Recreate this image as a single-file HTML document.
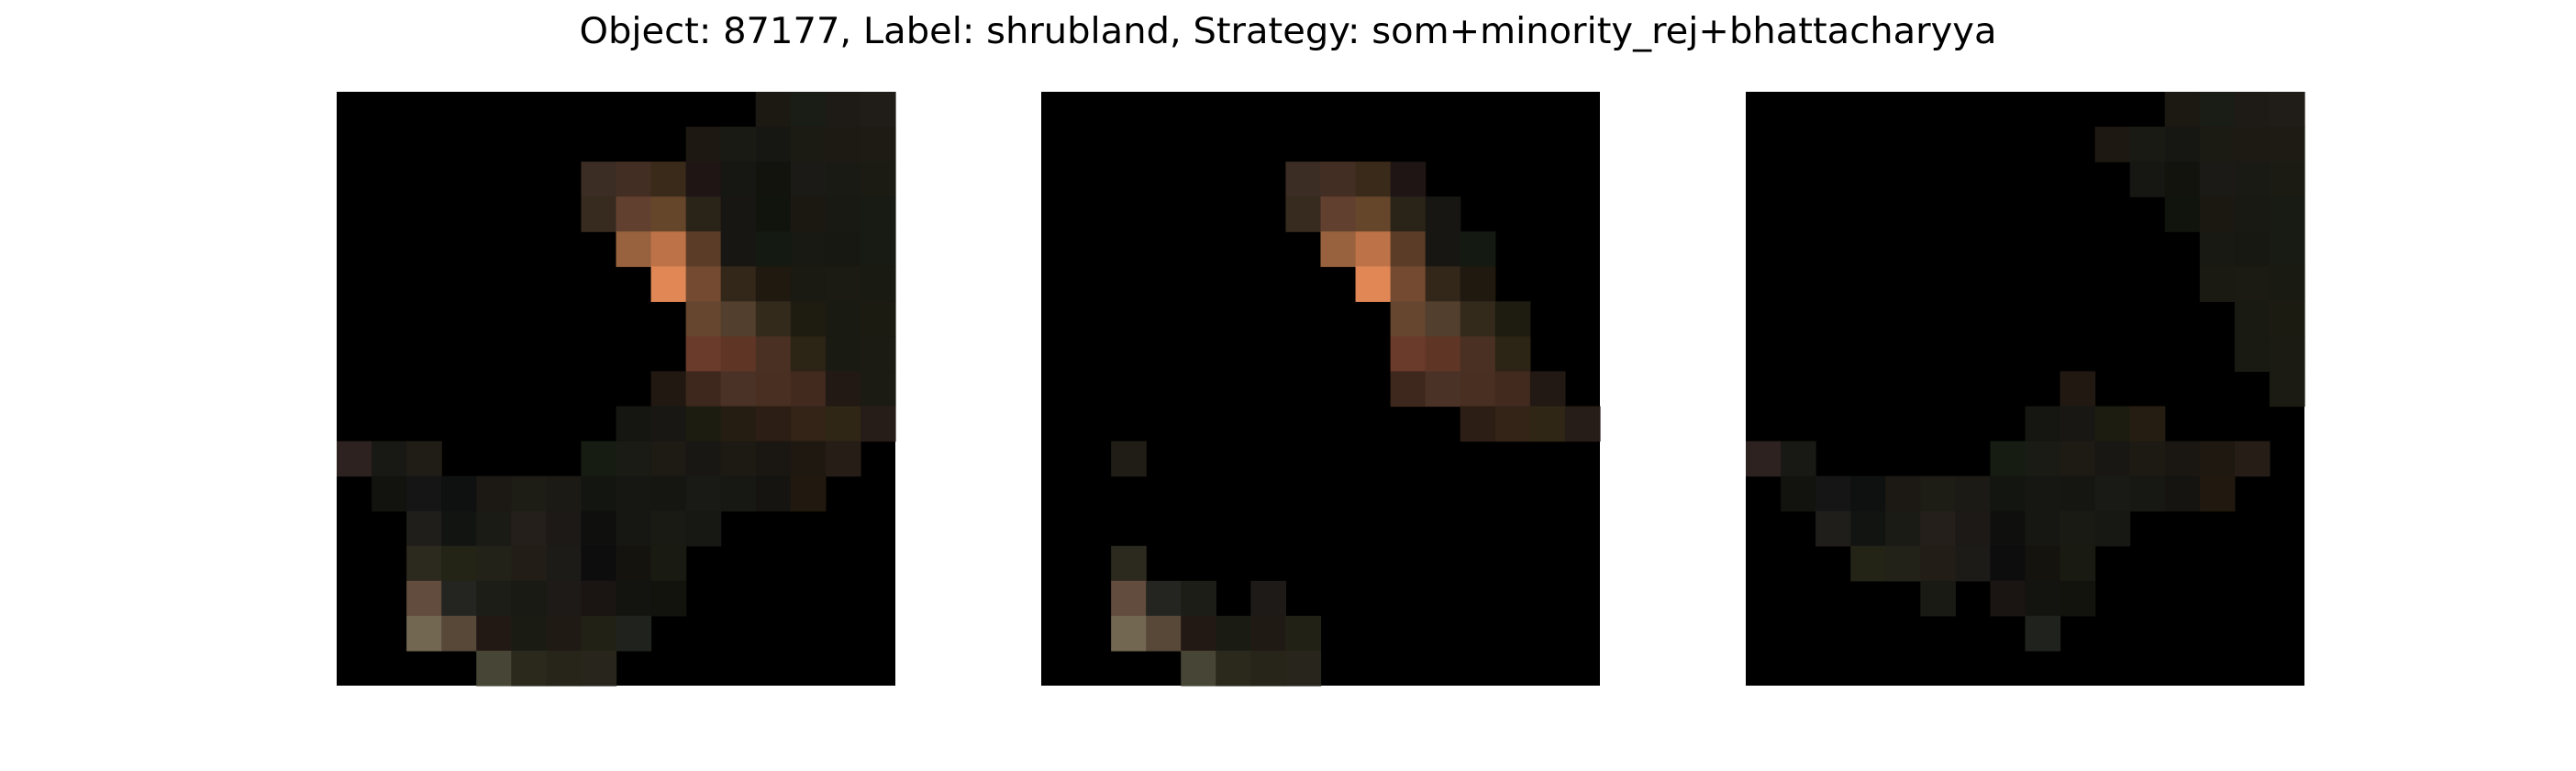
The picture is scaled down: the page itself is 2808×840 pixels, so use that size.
<!DOCTYPE html>
<html><head><meta charset="utf-8"><style>
html,body{margin:0;padding:0;background:#fff;width:2808px;height:840px;overflow:hidden}
svg{display:block}
</style></head><body>
<svg id="fig" width="2808" height="840" xmlns="http://www.w3.org/2000/svg">
<rect width="2808" height="840" fill="#fff"/>
<text x="1404" y="47" text-anchor="middle" textLength="1545" lengthAdjust="spacingAndGlyphs" font-family="DejaVu Sans, Liberation Sans, sans-serif" font-size="39" fill="#000">Object: 87177, Label: shrubland, Strategy: som+minority_rej+bhattacharyya</text>
</svg>
<script>
const panelLefts = [367, 1135, 1903];
const panelNames = ['panel-original', 'panel-filtered', 'panel-rejected'];
const grid = [
"0,0,0,0,0,0,0,0,0,0,0,0,1c1812,1a1c16,1e1b16,201d18",
"0,0,0,0,0,0,0,0,0,0,1e1813,191a14,161713,1c1b13,1d1a14,1e1b14",
"0,0,0,0,0,0,0,3b2d23,432e23,3a2a1a,1e1514,161612,13130e,1c1a16,1a1a14,1b1a13",
"0,0,0,0,0,0,0,372a1f,624030,66462b,2a2318,171612,10140d,1b1812,181913,181a14",
"0,0,0,0,0,0,0,0,98623e,bd7248,5b3d27,171612,141a11,191913,181813,181a14",
"0,0,0,0,0,0,0,0,0,e08755,744a30,33271a,1f1910,1b1a12,1b1a13,191b12",
"0,0,0,0,0,0,0,0,0,0,66462f,523f2d,332a1c,1e1b10,191b13,1c1b12",
"0,0,0,0,0,0,0,0,0,0,6a3b2a,5f3626,4a3023,2c2415,191b13,1b1b13",
"0,0,0,0,0,0,0,0,0,211812,3e281d,4a3227,482f22,422a1f,221914,1b1b13",
"0,0,0,0,0,0,0,0,151511,181713,1d1c10,261d12,2c1e14,332417,302616,271d18",
"2d2220,181814,201d16,0,0,0,0,171c13,191b14,1e1a14,181713,1c1a13,1a1612,1e1810,261d17,0",
"0,12120e,151515,0f1010,1c1814,1d1c15,1b1a14,131510,161713,151611,191a16,171813,151411,21190f,0,0",
"0,0,1f1e1b,121411,1a1b15,251f1b,1d1917,0f0f0e,161612,181a13,171813,0,0,0,0,0",
"0,0,2c2a1e,232416,222219,221e17,1c1b18,0e0d0d,15130e,191a12,0,0,0,0,0,0",
"0,0,624c3d,242520,1b1d16,181a13,1e1a17,1a1412,13140f,13130d,0,0,0,0,0,0",
"0,0,726852,574838,221915,1a1c14,201a15,222116,20221d,0,0,0,0,0,0,0",
"0,0,0,0,474535,2b281c,27241a,28261c,0,0,0,0,0,0,0,0"
];
const maskAll = null;
const mask2 = ["0000000000000000","0000000000000000","0000000111100000","0000000111110000","0000000011111000","0000000001111000","0000000000111100","0000000000111100","0000000000111110","0000000000001111","0010000000000000","0000000000000000","0000000000000000","0010000000000000","0011101000000000","0011111100000000","0000111100000000"];
const mask3 = ["0000000000001111","0000000000111111","0000000000011111","0000000000001111","0000000000000111","0000000000000111","0000000000000011","0000000000000011","0000000001000001","0000000011110000","1100000111111110","0111111111111100","0011111111100000","0001111111000000","0000010111000000","0000000010000000","0000000000000000"];
const masks = [maskAll, mask2, mask3];

const NS = 'http://www.w3.org/2000/svg';
const svg = document.getElementById('fig');
const top0 = 100, W = 609, H = 647, cols = 16, rows = 17;
const cw = W / cols, ch = H / rows;
panelLefts.forEach((x0, p) => {
  const g = document.createElementNS(NS, 'g');
  
  
  const bg = document.createElementNS(NS, 'rect');
  bg.setAttribute('x', x0); bg.setAttribute('y', top0);
  bg.setAttribute('width', W); bg.setAttribute('height', H);
  bg.setAttribute('fill', '#000');
  
  
  g.appendChild(bg);
  for (let r = 0; r < rows; r++) {
    const cells = grid[r].split(',');
    for (let c = 0; c < cols; c++) {
      const v = cells[c];
      if (v === '0') continue;
      const m = masks[p];
      if (m && m[r][c] !== '1') continue;
      const rc = document.createElementNS(NS, 'rect');
      rc.setAttribute('x', (x0 + c * cw).toFixed(2));
      rc.setAttribute('y', (top0 + r * ch).toFixed(2));
      rc.setAttribute('width', (cw + 0.6).toFixed(2));
      rc.setAttribute('height', (ch + 0.6).toFixed(2));
      rc.setAttribute('fill', '#' + v);
      
      
      g.appendChild(rc);
    }
  }
  svg.appendChild(g);
});
</script>
</body></html>
